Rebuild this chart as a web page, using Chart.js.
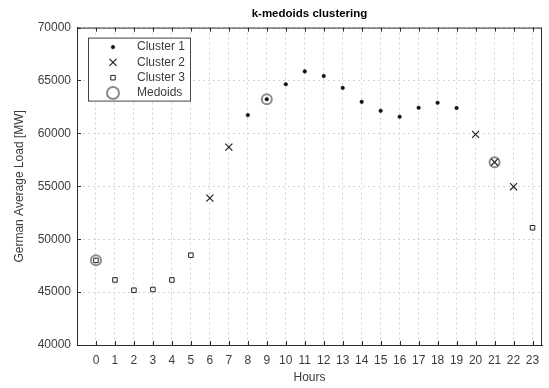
<!DOCTYPE html>
<html>
<head>
<meta charset="utf-8">
<script src="https://cdn.jsdelivr.net/npm/chart.js@4/dist/chart.umd.min.js"></script>
<style>
  html, body { margin: 0; padding: 0; background: #fff; }
  #wrap { width: 549px; height: 388px; }
</style>
</head>
<body>
<div id="wrap"><canvas id="kmedoidsChart" width="549" height="388"></canvas></div>
<script>
// hourly values
const hours = [0, 1, 2, 3, 4, 5, 6, 7, 8, 9, 10, 11, 12, 13, 14, 15, 16, 17, 18, 19, 20, 21, 22, 23];
const avgLoad = [48000, 46150, 45180, 45250, 46150, 48490, 53880, 58700, 61730, 63230, 64640, 65860,
                 65420, 64300, 62980, 62130, 61570, 62420, 62890, 62400, 59910, 57280, 54960, 51080];
const clusterOf = [3, 3, 3, 3, 3, 3, 2, 2, 1, 1, 1, 1, 1, 1, 1, 1, 1, 1, 1, 1, 2, 2, 2, 3];
const medoidHours = [0, 9, 21];
const seriesNames = ['Cluster 1', 'Cluster 2', 'Cluster 3', 'Medoids'];
const yTicks = [40000, 45000, 50000, 55000, 60000, 65000, 70000];

const textColor = '#3c3c3c';
const axisColor = '#2b2b2b';
const font = 'Liberation Sans, Arial, Helvetica, sans-serif';

function pointsFor(c) {
    return hours.filter((h, i) => clusterOf[i] === c).map(h => ({ x: h, y: avgLoad[h] }));
}

const styles = [
    { pointStyle: 'circle', pointRadius: 1.8, backgroundColor: '#111', borderColor: '#111', pointBorderWidth: 0.5 },
    { pointStyle: 'crossRot', pointRadius: 5, backgroundColor: 'rgba(0,0,0,0)', borderColor: '#222', pointBorderWidth: 1.2 },
    { pointStyle: 'rect', pointRadius: 3.2, backgroundColor: 'rgba(0,0,0,0)', borderColor: '#222', pointBorderWidth: 1 },
    { pointStyle: 'circle', pointRadius: 5, backgroundColor: 'rgba(0,0,0,0)', borderColor: '#8c8c8c', pointBorderWidth: 2 }
];

const datasets = [1, 2, 3].map((c, k) => Object.assign({
    label: seriesNames[k],
    data: pointsFor(c),
    showLine: false
}, styles[k]));
datasets.push(Object.assign({
    label: seriesNames[3],
    data: medoidHours.map(h => ({ x: h, y: avgLoad[h] })),
    showLine: false
}, styles[3]));

// box, inward ticks and the boxed legend, drawn like the matlab figure
const matlabAxes = {
    id: 'matlabAxes',
    afterDraw(chart) {
        const ctx = chart.ctx;
        const a = chart.chartArea;
        const xs = chart.scales.x, ys = chart.scales.y;
        ctx.save();
        ctx.strokeStyle = axisColor;
        ctx.lineWidth = 1;
        ctx.beginPath();
        ctx.moveTo(a.left, a.top + 0.5);
        ctx.lineTo(a.right, a.top + 0.5);
        ctx.moveTo(a.right - 0.5, a.top);
        ctx.lineTo(a.right - 0.5, a.bottom);
        hours.forEach(h => {
            const px = Math.round(xs.getPixelForValue(h)) + 0.5;
            ctx.moveTo(px, a.bottom); ctx.lineTo(px, a.bottom - 4);
            ctx.moveTo(px, a.top); ctx.lineTo(px, a.top + 4);
        });
        yTicks.forEach(v => {
            const py = Math.round(ys.getPixelForValue(v)) + 0.5;
            ctx.moveTo(a.left, py); ctx.lineTo(a.left + 4, py);
        });
        ctx.stroke();

        // legend
        const lx = a.left + 11, ly = a.top + 10, lw = 102, lh = 63;
        ctx.fillStyle = '#fff';
        ctx.fillRect(lx, ly, lw, lh);
        ctx.strokeStyle = '#444';
        ctx.strokeRect(lx + 0.5, ly + 0.5, lw, lh);
        ctx.font = '12px ' + font;
        ctx.textBaseline = 'middle';
        chart.data.datasets.forEach((ds, i) => {
            const cy = ly + 9.5 + i * 15.3;
            const cx = lx + 25;
            ctx.fillStyle = ds.backgroundColor;
            ctx.strokeStyle = ds.borderColor;
            ctx.lineWidth = ds.pointBorderWidth;
            Chart.helpers.drawPoint(ctx, {
                pointStyle: ds.pointStyle,
                radius: i === 3 ? 6 : ds.pointRadius,
                rotation: 0,
                borderWidth: ds.pointBorderWidth
            }, cx, cy);
            ctx.fillStyle = textColor;
            ctx.fillText(ds.label, lx + 49, cy);
        });
        ctx.restore();
    }
};

new Chart(document.getElementById('kmedoidsChart').getContext('2d'), {
    type: 'scatter',
    data: { datasets: datasets },
    options: {
        responsive: false,
        animation: false,
        layout: { padding: 0 },
        plugins: {
            legend: { display: false },
            tooltip: { enabled: false },
            title: {
                display: true,
                text: 'k-medoids clustering',
                fullSize: false,
                color: '#000',
                font: { family: font, size: 11.5, weight: 'bold' },
                padding: { top: 7, bottom: 6.8 }
            }
        },
        scales: {
            x: {
                type: 'linear',
                min: -1,
                max: 23.5,
                afterBuildTicks: s => { s.ticks = hours.map(h => ({ value: h })); },
                afterFit: s => { s.height = 43; },
                ticks: { color: textColor, font: { family: font, size: 12 }, padding: 8, maxRotation: 0, autoSkip: false },
                grid: { color: '#d4d4d4', lineWidth: 1, drawTicks: false },
                border: { display: true, color: axisColor, width: 1, dash: [2, 3] },
                title: { display: true, text: 'Hours', color: textColor, font: { family: font, size: 12 }, padding: { top: 0, bottom: 3.5 } }
            },
            y: {
                min: 40000,
                max: 70000,
                afterBuildTicks: s => { s.ticks = yTicks.map(v => ({ value: v })); },
                afterFit: s => { s.width = 77; },
                ticks: { color: textColor, font: { family: font, size: 12 }, padding: 6, callback: v => String(v) },
                grid: { color: '#d4d4d4', lineWidth: 1, drawTicks: false },
                border: { display: true, color: axisColor, width: 1, dash: [2, 3] },
                title: { display: true, text: 'German Average Load [MW]', color: textColor, font: { family: font, size: 12 }, padding: { top: 12.8, bottom: 0 } }
            }
        }
    },
    plugins: [matlabAxes]
});
</script>
</body>
</html>
